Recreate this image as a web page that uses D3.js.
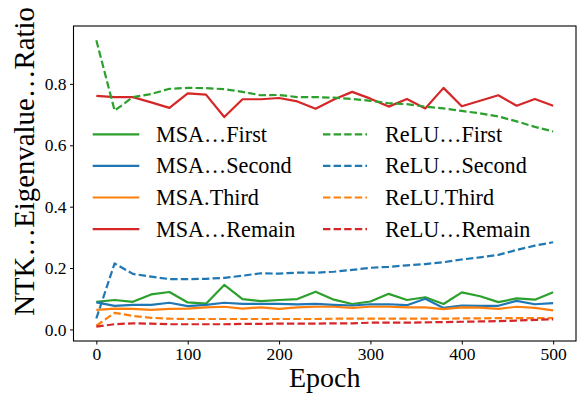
<!DOCTYPE html>
<html>
<head>
<meta charset="utf-8">
<script src="https://cdn.jsdelivr.net/npm/d3@7/dist/d3.min.js"></script>
<style>
  html, body { margin: 0; padding: 0; background: #fff; }
  svg { display: block; }
</style>
</head>
<body>
<svg id="chart" width="582" height="394"></svg>
<script>
const epochs = [0,20,40,60,80,100,120,140,160,180,200,220,240,260,280,300,320,340,360,380,400,420,440,460,480,500];

const msaFirst  = [0.090,0.096,0.090,0.114,0.122,0.088,0.084,0.145,0.099,0.092,0.096,0.099,0.123,0.097,0.083,0.091,0.116,0.096,0.105,0.083,0.121,0.108,0.089,0.101,0.097,0.121];
const msaSecond = [0.088,0.077,0.080,0.080,0.087,0.076,0.080,0.087,0.083,0.083,0.083,0.082,0.083,0.080,0.078,0.082,0.082,0.079,0.100,0.070,0.078,0.077,0.077,0.093,0.082,0.086];
const msaThird  = [0.064,0.068,0.067,0.064,0.067,0.068,0.072,0.074,0.068,0.072,0.067,0.072,0.074,0.074,0.070,0.074,0.074,0.072,0.072,0.066,0.072,0.071,0.067,0.074,0.070,0.062];
const msaRemain = [0.761,0.757,0.757,0.740,0.722,0.769,0.765,0.692,0.750,0.750,0.754,0.743,0.719,0.749,0.774,0.752,0.726,0.751,0.720,0.787,0.727,0.745,0.763,0.729,0.751,0.729];

const reluFirst  = [0.942,0.713,0.757,0.767,0.784,0.787,0.786,0.783,0.774,0.763,0.764,0.757,0.757,0.755,0.751,0.745,0.737,0.734,0.726,0.720,0.712,0.704,0.694,0.678,0.660,0.645];
const reluSecond = [0.036,0.215,0.181,0.172,0.164,0.164,0.165,0.168,0.175,0.183,0.182,0.185,0.185,0.188,0.194,0.201,0.204,0.209,0.213,0.219,0.228,0.235,0.243,0.259,0.273,0.284];
const reluThird  = [0.012,0.054,0.044,0.038,0.035,0.034,0.034,0.034,0.034,0.034,0.034,0.034,0.034,0.035,0.035,0.035,0.035,0.035,0.035,0.035,0.036,0.036,0.037,0.037,0.037,0.037];
const reluRemain = [0.009,0.017,0.020,0.019,0.017,0.017,0.017,0.017,0.018,0.018,0.019,0.019,0.019,0.020,0.020,0.022,0.022,0.022,0.023,0.024,0.025,0.026,0.027,0.029,0.031,0.033];

const seriesNames = ["MSA\u2026First","MSA\u2026Second","MSA.Third","MSA\u2026Remain","ReLU\u2026First","ReLU\u2026Second","ReLU.Third","ReLU\u2026Remain"];
const seriesValues = [msaFirst, msaSecond, msaThird, msaRemain, reluFirst, reluSecond, reluThird, reluRemain];
const seriesColors = ["#2ca02c","#1f77b4","#ff7f0e","#d62728","#2ca02c","#1f77b4","#ff7f0e","#d62728"];
const seriesDashed = [false,false,false,false,true,true,true,true];

const xTicks = [0,100,200,300,400,500];
const yTicks = [0.0,0.2,0.4,0.6,0.8];
const xLabel = "Epoch";
const yLabel = "NTK\u2026Eigenvalue\u2026Ratio";

const FONT = "'Liberation Serif','Times New Roman',serif";
const svg = d3.select("#chart");
const box = {left: 73.5, top: 26, right: 576, bottom: 341};

// matplotlib-like 5% margins
const xMin = d3.min(epochs), xMax = d3.max(epochs);
const allVals = seriesValues.flat();
const yMin = d3.min(allVals), yMax = d3.max(allVals);
const xPad = (xMax - xMin) * 0.05, yPad = (yMax - yMin) * 0.05;

const x = d3.scaleLinear().domain([xMin - xPad, xMax + xPad]).range([box.left, box.right]);
const y = d3.scaleLinear().domain([yMin - yPad, yMax + yPad]).range([box.bottom, box.top]);

// lines
const line = d3.line().x((d,i) => x(epochs[i])).y(d => y(d));
const g = svg.append("g");
seriesValues.forEach((vals, k) => {
  g.append("path")
    .datum(vals)
    .attr("d", line)
    .attr("fill", "none")
    .attr("stroke", seriesColors[k])
    .attr("stroke-width", 2.2)
    .attr("stroke-linejoin", "round")
    .attr("stroke-dasharray", seriesDashed[k] ? "7.4,3.2" : null);
});

// frame
svg.append("rect")
  .attr("x", box.left).attr("y", box.top)
  .attr("width", box.right - box.left).attr("height", box.bottom - box.top)
  .attr("fill", "none").attr("stroke", "#000").attr("stroke-width", 1.1);

// axes
const xAxis = d3.axisBottom(x).tickValues(xTicks).tickFormat(d3.format("d"))
  .tickSize(3.5).tickSizeOuter(0).tickPadding(3);
const yAxis = d3.axisLeft(y).tickValues(yTicks).tickFormat(d3.format(".1f"))
  .tickSize(3.5).tickSizeOuter(0).tickPadding(3.5);

const gx = svg.append("g").attr("transform", `translate(0,${box.bottom})`).call(xAxis);
const gy = svg.append("g").attr("transform", `translate(${box.left},0)`).call(yAxis);
[gx, gy].forEach(a => {
  a.select(".domain").remove();
  a.selectAll(".tick line").attr("stroke", "#000").attr("stroke-width", 1);
  a.selectAll(".tick text").attr("font-family", FONT).attr("font-size", 17.5).attr("fill", "#000");
});

// axis labels
svg.append("text")
  .attr("x", (box.left + box.right) / 2).attr("y", 387)
  .attr("text-anchor", "middle")
  .attr("font-family", FONT).attr("font-size", 28).attr("fill", "#000")
  .text(xLabel);

svg.append("text")
  .attr("transform", "translate(33.5,161.5) rotate(-90)")
  .attr("text-anchor", "middle")
  .attr("font-family", FONT).attr("font-size", 28.8).attr("fill", "#000")
  .text(yLabel);

// legend
const legRows = [134.3, 165.9, 197.5, 229.1];
const legCols = [{x1: 92.7, x2: 139.3, tx: 156}, {x1: 323, x2: 367, tx: 385}];
seriesNames.forEach((name, k) => {
  const col = legCols[Math.floor(k / 4)];
  const ry = legRows[k % 4];
  svg.append("line")
    .attr("x1", col.x1).attr("x2", col.x2).attr("y1", ry).attr("y2", ry)
    .attr("stroke", seriesColors[k]).attr("stroke-width", 2.2)
    .attr("stroke-dasharray", seriesDashed[k] ? "7.4,3.2" : null);
  svg.append("text")
    .attr("x", col.tx).attr("y", ry).attr("dy", "0.34em")
    .attr("font-family", FONT).attr("font-size", 22.2).attr("fill", "#000")
    .text(name);
});
</script>
</body>
</html>
